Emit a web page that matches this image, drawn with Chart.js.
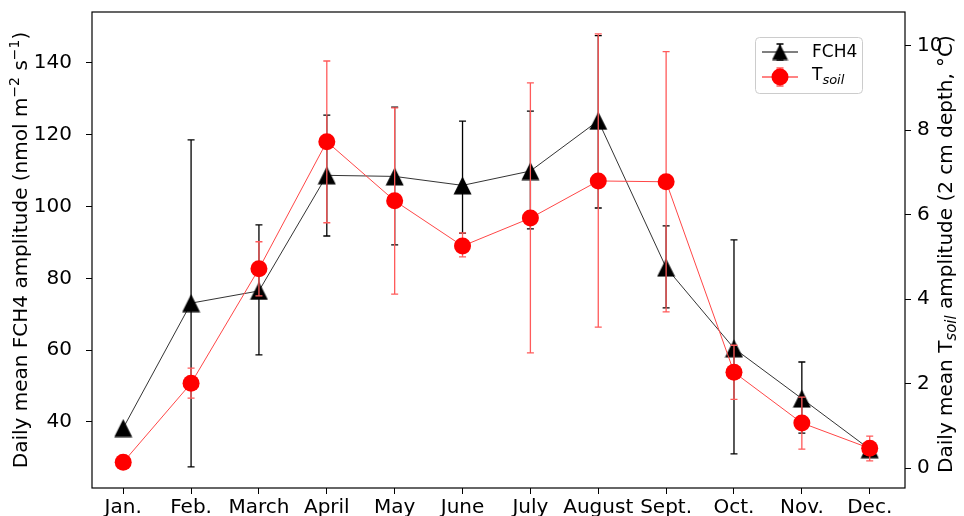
<!DOCTYPE html>
<html>
<head>
<meta charset="utf-8">
<script src="https://cdn.jsdelivr.net/npm/chart.js@4.4.1/dist/chart.umd.min.js"></script>
<style>
  html, body { margin: 0; padding: 0; background: #fff; }
  #wrap { width: 964px; height: 516px; position: relative; }
</style>
</head>
<body>
<div id="wrap"><canvas id="c" width="964" height="516"></canvas></div>
<script>
/* monthly amplitude: FCH4 (left axis) and Tsoil (right axis), error bars */
const months = ['Jan.', 'Feb.', 'March', 'April', 'May', 'June', 'July', 'August', 'Sept.', 'Oct.', 'Nov.', 'Dec.'];

const fch4   = [38.3, 73.1, 76.5, 108.7, 108.4, 105.9, 109.9, 123.9, 83.0, 60.5, 46.5, 32.4];
const fch4Hi = [null, 118.6, 94.9, 125.5, 127.7, 123.8, 126.6, 147.6, 94.6, 90.7, 56.7, 33.4];
const fch4Lo = [null, 27.5, 58.7, 91.8, 89.3, 92.6, 93.8, 99.6, 71.8, 31.1, 36.9, 31.4];

const tsoil   = [0.14, 2.01, 4.72, 7.73, 6.33, 5.26, 5.92, 6.80, 6.78, 2.27, 1.07, 0.47];
const tsoilHi = [null, 2.37, 5.36, 9.64, 8.53, 5.57, 9.12, 10.28, 9.86, 2.91, 1.68, 0.76];
const tsoilLo = [null, 1.66, 4.08, 5.81, 4.12, 5.00, 2.73, 3.34, 3.70, 1.63, 0.45, 0.17];

const fchTicks   = [40, 60, 80, 100, 120, 140];
const tsoilTicks = [0, 2, 4, 6, 8, 10];

const FONT = '"DejaVu Sans", sans-serif';

/* ── matplotlib-like '^' marker ── */
function makeTri(size, color) {
  const cv = document.createElement('canvas');
  cv.width = size; cv.height = size;
  const g = cv.getContext('2d');
  g.fillStyle = color;
  g.beginPath();
  g.moveTo(size / 2, 0.5);
  g.lineTo(size - 0.5, size - 0.5);
  g.lineTo(0.5, size - 0.5);
  g.closePath();
  g.fill();
  return cv;
}
const triMarker = makeTri(19, '#000');
const triSmall  = makeTri(17, '#000');

/* ── text helper (sub/superscripts) ── */
function richText(ctx, parts, x, y, rotate, align) {
  ctx.save();
  ctx.translate(x, y);
  if (rotate) ctx.rotate(-Math.PI / 2);
  let total = 0;
  const ws = parts.map(p => {
    ctx.font = `${p.style || ''} ${p.size}px ${FONT}`;
    const w = ctx.measureText(p.t).width;
    total += w;
    return w;
  });
  let cx = align === 'left' ? 0 : -total / 2;
  ctx.textBaseline = 'middle';
  ctx.textAlign = 'left';
  ctx.fillStyle = '#000';
  parts.forEach((p, i) => {
    ctx.font = `${p.style || ''} ${p.size}px ${FONT}`;
    ctx.fillText(p.t, cx, p.dy || 0);
    cx += ws[i];
  });
  ctx.restore();
}

/* ── error bars, drawn right before their own series ── */
const errorBars = {
  id: 'errorBars',
  beforeDatasetDraw(chart, args) {
    const ds = chart.data.datasets[args.index];
    if (!ds.errHi) return;
    const { ctx } = chart;
    const xs = chart.scales.x, ys = chart.scales[ds.yAxisID];
    ctx.save();
    ctx.strokeStyle = ds.errColor;
    ctx.lineWidth = 1.3;
    ds.errHi.forEach((hi, i) => {
      if (hi === null) return;
      const x  = xs.getPixelForValue(i);
      const y1 = ys.getPixelForValue(hi);
      const y2 = ys.getPixelForValue(ds.errLo[i]);
      ctx.beginPath();
      ctx.moveTo(x, y1); ctx.lineTo(x, y2);
      ctx.moveTo(x - 3.5, y1); ctx.lineTo(x + 3.5, y1);
      ctx.moveTo(x - 3.5, y2); ctx.lineTo(x + 3.5, y2);
      ctx.stroke();
    });
    ctx.restore();
  },
};

/* ── frame, axis titles, legend ── */
const decor = {
  id: 'decor',
  afterDatasetsDraw(chart) {
    const { ctx, chartArea: a } = chart;
    ctx.save();
    ctx.strokeStyle = '#000';
    ctx.lineWidth = 1.2;
    ctx.strokeRect(a.left, a.top, a.right - a.left, a.bottom - a.top);
    ctx.restore();
  },
  afterDraw(chart) {
    const { ctx } = chart;
    richText(ctx, [
      { t: 'Daily mean FCH4 amplitude (nmol m', size: 20 },
      { t: '\u22122', size: 14, dy: -7 },
      { t: ' s', size: 20 },
      { t: '\u22121', size: 14, dy: -7 },
      { t: ')', size: 20 },
    ], 22, 250, true);
    richText(ctx, [
      { t: 'Daily mean T', size: 20 },
      { t: 'soil', size: 15, style: 'italic', dy: 5 },
      { t: ' amplitude (2 cm depth, \u00b0C)', size: 20 },
    ], 947, 254, true);

    // legend
    const bx = 755, by = 37, bw = 107, bh = 56;
    ctx.save();
    ctx.fillStyle = 'rgba(255,255,255,0.85)';
    ctx.strokeStyle = '#cccccc';
    ctx.lineWidth = 1;
    ctx.beginPath();
    ctx.roundRect(bx + 0.5, by + 0.5, bw, bh, 4);
    ctx.fill(); ctx.stroke();

    let y = 52;
    ctx.strokeStyle = '#000'; ctx.lineWidth = 1;
    ctx.beginPath(); ctx.moveTo(762, y); ctx.lineTo(798, y); ctx.stroke();
    ctx.lineWidth = 1.3;
    ctx.beginPath();
    ctx.moveTo(780, y - 8); ctx.lineTo(780, y + 8);
    ctx.moveTo(776.5, y - 8); ctx.lineTo(783.5, y - 8);
    ctx.moveTo(776.5, y + 8); ctx.lineTo(783.5, y + 8);
    ctx.stroke();
    ctx.drawImage(triSmall, 780 - 8.5, y - 8.5);

    y = 77;
    ctx.strokeStyle = 'rgb(255,90,90)'; ctx.lineWidth = 1.3;
    ctx.beginPath(); ctx.moveTo(762, y); ctx.lineTo(798, y); ctx.stroke();
    ctx.beginPath();
    ctx.moveTo(780, y - 9); ctx.lineTo(780, y + 9);
    ctx.moveTo(776.5, y - 9); ctx.lineTo(783.5, y - 9);
    ctx.moveTo(776.5, y + 9); ctx.lineTo(783.5, y + 9);
    ctx.stroke();
    ctx.fillStyle = '#ff0000';
    ctx.beginPath(); ctx.arc(780, y, 8.5, 0, Math.PI * 2); ctx.fill();
    ctx.restore();

    richText(ctx, [{ t: 'FCH4', size: 17 }], 812, 53, false, 'left');
    richText(ctx, [
      { t: 'T', size: 17 },
      { t: 'soil', size: 13, style: 'italic', dy: 5 },
    ], 812, 76, false, 'left');
  },
};

const tickFont = { family: FONT, size: 20 };

function fixY(width) {
  return s => { s.width = width; s.paddingTop = 0; s.paddingBottom = 0; };
}

new Chart(document.getElementById('c'), {
  type: 'line',
  data: {
    datasets: [
      {
        label: 'Tsoil',
        data: tsoil.map((v, i) => ({ x: i, y: v })),
        yAxisID: 'y1',
        order: 0,
        borderColor: 'rgb(255,70,70)',
        borderWidth: 1,
        pointStyle: 'circle',
        pointRadius: 8.5,
        pointBackgroundColor: '#ff0000',
        pointBorderWidth: 0,
        tension: 0,
        errHi: tsoilHi, errLo: tsoilLo, errColor: 'rgb(255,90,90)',
      },
      {
        label: 'FCH4',
        data: fch4.map((v, i) => ({ x: i, y: v })),
        yAxisID: 'y',
        order: 1,
        borderColor: 'rgba(0,0,0,0.8)',
        borderWidth: 1,
        pointStyle: triMarker,
        pointRadius: 9,
        tension: 0,
        errHi: fch4Hi, errLo: fch4Lo, errColor: '#000',
      },
    ],
  },
  options: {
    responsive: false,
    animation: false,
    devicePixelRatio: 1,
    layout: { padding: { top: 12, left: 0, right: 0, bottom: 0 } },
    plugins: { legend: { display: false }, tooltip: { enabled: false } },
    scales: {
      x: {
        type: 'linear', min: -0.46, max: 11.52,
        afterBuildTicks: s => { s.ticks = months.map((_, i) => ({ value: i })); },
        afterFit: s => { s.height = 28; s.paddingLeft = 0; s.paddingRight = 0; },
        ticks: { color: '#000', font: tickFont, padding: 2, autoSkip: false, maxRotation: 0,
                 callback: v => months[v] },
        grid: { drawOnChartArea: false, drawTicks: true, tickLength: 6, color: '#000', lineWidth: 1 },
        border: { display: false },
      },
      y: {
        position: 'left', min: 21.6, max: 154.2,
        afterBuildTicks: s => { s.ticks = fchTicks.map(v => ({ value: v })); },
        afterFit: fixY(92),
        ticks: { color: '#000', font: tickFont, padding: 14 },
        grid: { drawOnChartArea: false, drawTicks: true, tickLength: 6, color: '#000', lineWidth: 1 },
        border: { display: false },
      },
      y1: {
        position: 'right', min: -0.47, max: 10.8,
        afterBuildTicks: s => { s.ticks = tsoilTicks.map(v => ({ value: v })); },
        afterFit: fixY(59),
        ticks: { color: '#000', font: tickFont, padding: 6 },
        grid: { drawOnChartArea: false, drawTicks: true, tickLength: 6, color: '#000', lineWidth: 1 },
        border: { display: false },
      },
    },
  },
  plugins: [errorBars, decor],
});
</script>
</body>
</html>
